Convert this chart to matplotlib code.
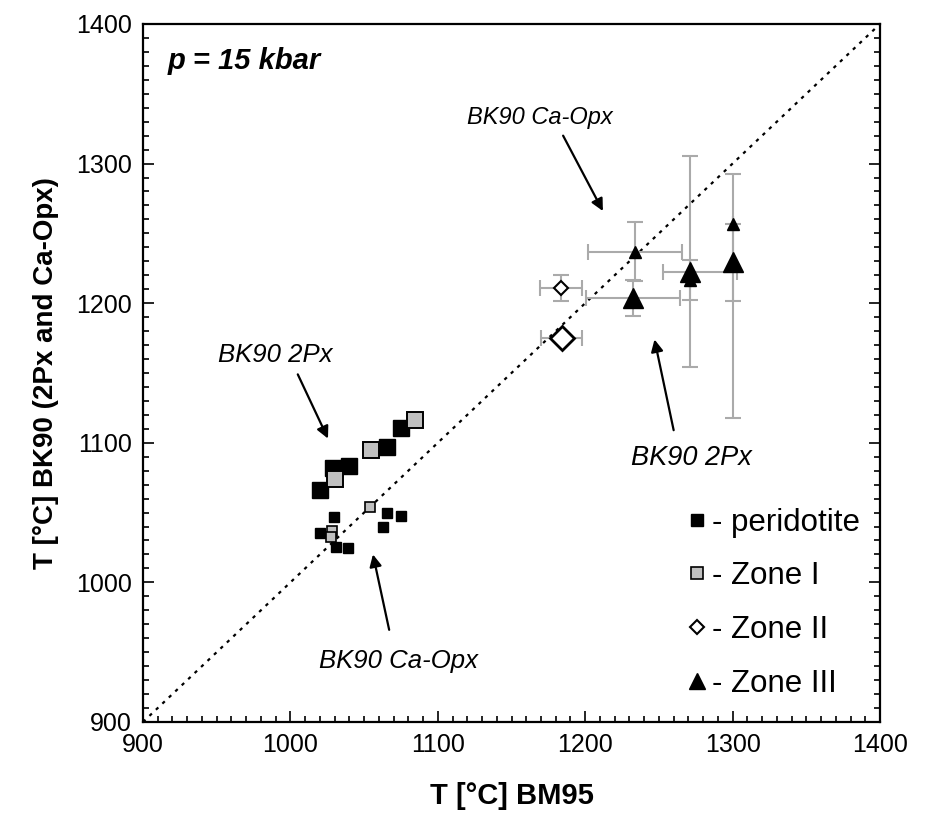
import matplotlib
matplotlib.use("Agg")
import matplotlib.pyplot as plt
from matplotlib.ticker import MultipleLocator
from matplotlib.lines import Line2D

plt.rcParams['font.family'] = ['Liberation Sans', 'DejaVu Sans']

# --- data (T in degC) ---
# BK90 2Px (large symbols)
perid_2px_x = [1020, 1029, 1040, 1065.5, 1075]
perid_2px_y = [1066, 1082, 1083, 1097, 1110.6]
zone1_2px_x = [1030, 1055, 1084.5]
zone1_2px_y = [1074, 1095, 1116]
zone2_2px_x = [1184]
zone2_2px_y = [1175]
zone2_2px_xerr = [14]
zone3_2px_x = [1232.4, 1271, 1300.3]
zone3_2px_y = [1203.7, 1222.5, 1229.5]
zone3_2px_xerr = [[32, 18, 0], [32, 32, 0]]
zone3_2px_yerr = [[13, 68, 112], [13, 83, 63]]

# BK90 Ca-Opx (small symbols)
perid_caopx_x = [1065.5, 1075, 1063, 1029.6, 1020, 1031, 1039]
perid_caopx_y = [1049.7, 1047.6, 1039.7, 1046.8, 1035.3, 1025.4, 1024.6]
zone1_caopx_x = [1054, 1028, 1027.5]
zone1_caopx_y = [1054, 1036.8, 1032.5]
zone2_caopx_x = [1183.6]
zone2_caopx_y = [1211]
zone2_caopx_xerr = [14]
zone2_caopx_yerr = [9.3]
zone3_caopx_x = [1233.8, 1271, 1300.3]
zone3_caopx_y = [1237, 1216.6, 1256.7]
zone3_caopx_xerr = [[32, 0, 0], [32, 0, 0]]
zone3_caopx_yerr = [[21, 14, 55], [21, 14, 0]]

# annotations: label, text position, arrow tail, arrow head, font size
notes = [
    ("BK90 Ca-Opx", (1169, 1333), (1185, 1320), (1212, 1266), 17),
    ("BK90 2Px", (990, 1163), (1005, 1149), (1025.5, 1103), 18.5),
    ("BK90 Ca-Opx", (1073, 944), (1067, 966), (1056, 1020), 18.5),
    ("BK90 2Px", (1272, 1089), (1260, 1109), (1247, 1174), 19.5),
]

GREY = "#c0c0c0"
ERR = "#aaaaaa"

fig = plt.figure(figsize=(9.28, 8.18), dpi=100)
ax = fig.add_axes([0.1541, 0.1174, 0.7942, 0.8533])

ax.plot([900, 1400], [900, 1400], ls=(0, (1.5, 2.5)), color="black", lw=1.6, zorder=1)

ekw = dict(fmt="none", ecolor=ERR, elinewidth=1.5, capsize=6, capthick=1.5, zorder=2)
ax.errorbar(zone2_2px_x, zone2_2px_y, xerr=zone2_2px_xerr, **ekw)
ax.errorbar(zone2_caopx_x, zone2_caopx_y, xerr=zone2_caopx_xerr, yerr=zone2_caopx_yerr, **ekw)
ax.errorbar(zone3_2px_x, zone3_2px_y, xerr=zone3_2px_xerr, yerr=zone3_2px_yerr, **ekw)
ax.errorbar(zone3_caopx_x, zone3_caopx_y, xerr=zone3_caopx_xerr, yerr=zone3_caopx_yerr, **ekw)

ax.plot(perid_caopx_x, perid_caopx_y, "s", ms=7.5, mfc="black", mec="black", ls="none", zorder=3)
ax.plot(zone1_caopx_x, zone1_caopx_y, "s", ms=7, mfc=GREY, mec="black", mew=1.2, ls="none", zorder=4)
ax.plot(perid_2px_x, perid_2px_y, "s", ms=12, mfc="black", mec="black", ls="none", zorder=3)
ax.plot(zone1_2px_x, zone1_2px_y, "s", ms=11, mfc=GREY, mec="black", mew=1.4, ls="none", zorder=4)
ax.plot(zone2_caopx_x, zone2_caopx_y, "D", ms=7, mfc="white", mec="black", mew=1.5, ls="none", zorder=4)
ax.plot(zone2_2px_x, zone2_2px_y, "D", ms=12, mfc="white", mec="black", mew=2, ls="none", zorder=4)
ax.plot(zone3_caopx_x, zone3_caopx_y, "^", ms=9, mfc="black", mec="black", ls="none", zorder=4)
ax.plot(zone3_2px_x, zone3_2px_y, "^", ms=14, mfc="black", mec="black", ls="none", zorder=4)

ax.set_xlim(900, 1400)
ax.set_ylim(900, 1400)
ax.xaxis.set_major_locator(MultipleLocator(100))
ax.yaxis.set_major_locator(MultipleLocator(100))
ax.xaxis.set_minor_locator(MultipleLocator(10))
ax.yaxis.set_minor_locator(MultipleLocator(10))
ax.tick_params(which="both", direction="in", top=False, right=True, labelsize=18, width=1.2)
ax.tick_params(which="major", length=8, pad=8)
ax.tick_params(which="minor", length=4)
for s in ax.spines.values():
    s.set_linewidth(1.6)

ax.set_xlabel("T [°C] BM95", fontsize=21, fontweight="bold", labelpad=18)
ax.set_ylabel("T [°C] BK90 (2Px and Ca-Opx)", fontsize=20, fontweight="bold", labelpad=12)

ax.text(0.034, 0.947, "p = 15 kbar", transform=ax.transAxes, fontsize=21,
        fontweight="bold", fontstyle="italic", va="center", ha="left")

for label, txt, tail, head, fs in notes:
    ax.text(txt[0], txt[1], label, fontsize=fs, fontstyle="italic", ha="center", va="center")
    ax.annotate("", xy=head, xytext=tail,
                arrowprops=dict(arrowstyle="-|>", color="black", lw=1.6,
                                mutation_scale=18, shrinkA=0, shrinkB=0))

handles = [
    Line2D([], [], marker="s", ls="none", ms=8.5, mfc="black", mec="black"),
    Line2D([], [], marker="s", ls="none", ms=8.5, mfc=GREY, mec="black", mew=1.2),
    Line2D([], [], marker="D", ls="none", ms=7, mfc="white", mec="black", mew=1.5),
    Line2D([], [], marker="^", ls="none", ms=11, mfc="black", mec="black"),
]
ax.legend(handles, ["- peridotite", "- Zone I", "- Zone II", "- Zone III"],
          loc="lower right", bbox_to_anchor=(1.02, -0.016), frameon=False, fontsize=22.5,
          handlelength=0.6, handletextpad=0.2, labelspacing=0.76, borderaxespad=0.7)

fig.savefig("out.png", dpi=100)
